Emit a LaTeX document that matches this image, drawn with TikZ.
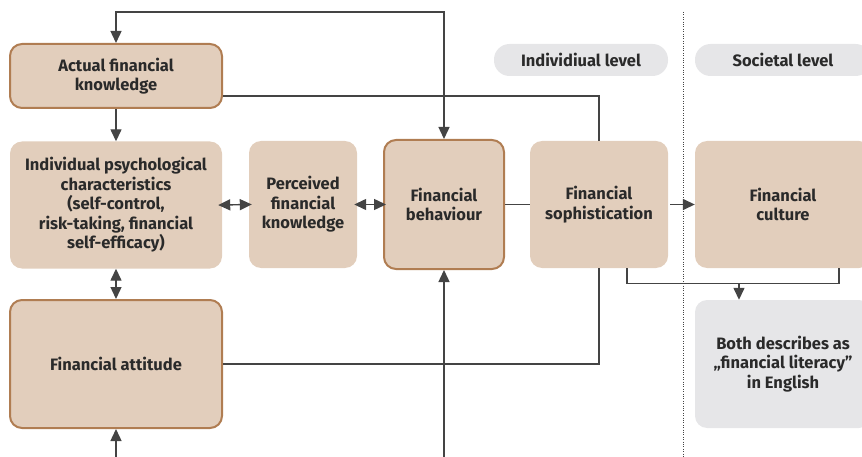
\documentclass[tikz,border=0pt]{standalone}
\usepackage{fontspec}
\setmainfont{Fira Sans}
\usetikzlibrary{arrows.meta}
\definecolor{tanfill}{HTML}{E2CEBC}
\definecolor{brd}{HTML}{B07D52}
\definecolor{pillfill}{HTML}{E6E6E8}
\definecolor{ln}{HTML}{444444}
\definecolor{txt}{HTML}{2A2A2A}
\begin{document}
\begin{tikzpicture}[x=1pt,y=-1pt,
 box/.style={fill=tanfill, rounded corners=12pt, align=center, font=\bfseries\fontsize{16.5}{19.5}\selectfont, text=txt, inner sep=0pt},
 bbox/.style={box, draw=brd, line width=2pt},
 gbox/.style={box, fill=pillfill},
 pillbox/.style={box, fill=pillfill, rounded corners=15.5pt, minimum height=32pt},
 conn/.style={draw=ln, line width=1.4pt},
 tip/.tip={Triangle[length=12pt,width=11pt]},
 arr/.style={conn, -tip},
 darr/.style={conn, tip-tip}
]
\useasboundingbox (0,0) rectangle (862,457);
\node[bbox, minimum width=212pt, minimum height=64pt] (afk) at (116,76) {Actual financial\\knowledge};
\node[box, minimum width=212pt, minimum height=127pt] (ipc) at (116,205) {Individual psychological\\characteristics\\(self-control,\\risk-taking, financial\\self-efficacy)};
\node[box, minimum width=108pt, minimum height=127pt] (pfk) at (303,204.5) {Perceived\\financial\\knowledge};
\node[bbox, minimum width=120pt, minimum height=129pt] (fb) at (444,204.5) {Financial\\behaviour};
\node[box, minimum width=138pt, minimum height=127pt] (fs) at (599,204.5) {Financial\\sophistication};
\node[box, minimum width=176pt, minimum height=127pt] (fc) at (783,204.5) {Financial\\culture};
\node[bbox, minimum width=212pt, minimum height=128pt] (fa) at (116,364) {Financial attitude};
\node[gbox, minimum width=176pt, minimum height=128pt] (bd) at (783,364) {Both describes as\\„financial literacy”\\in English};
\node[pillbox, minimum width=174pt] (il) at (581,60) {Individiual level};
\node[pillbox, minimum width=176pt] (sl) at (783,60) {Societal level};
% dotted separator
\coordinate (d1) at (683,12);
\coordinate (d2) at (683,457);
\draw[ln, line width=0.8pt, dash pattern=on 0.8pt off 1.6pt] (d1) -- (d2);
% top loop
\coordinate (t1) at (116,12);
\draw[conn, tip-tip] (afk.north) -- (t1) -| (fb.north);
% bottom incoming
\coordinate (b1) at (116,457);
\coordinate (b2) at (444,457);
\draw[arr] (b1) -- (fa.south);
\draw[arr] (b2) -- (fb.south);
% vertical links
\draw[arr] (afk.south) -- (ipc.north);
\draw[darr] (ipc.south) -- (fa.north);
% horizontal links
\draw[darr, shorten <=-4pt, shorten >=-3pt] (ipc.east) -- (pfk.west);
\draw[darr, shorten <=-3pt, shorten >=-3pt] (pfk.east) -- (fb.west);
\draw[conn] (fb.east) -- (fs.west);
\draw[arr] ([xshift=2pt]fs.east) -- (fc.west);
% long links
\draw[conn] ([yshift=-20pt]afk.east) -| (fs.north);
\draw[conn] (fs.south) |- (fa.east);
\draw[conn] ([xshift=28pt]fs.south) |- ++(0,15) -| ([xshift=56pt]fc.south);
\coordinate (m) at (739,283);
\draw[arr] (m) -- (m |- bd.north);
\end{tikzpicture}
\end{document}
